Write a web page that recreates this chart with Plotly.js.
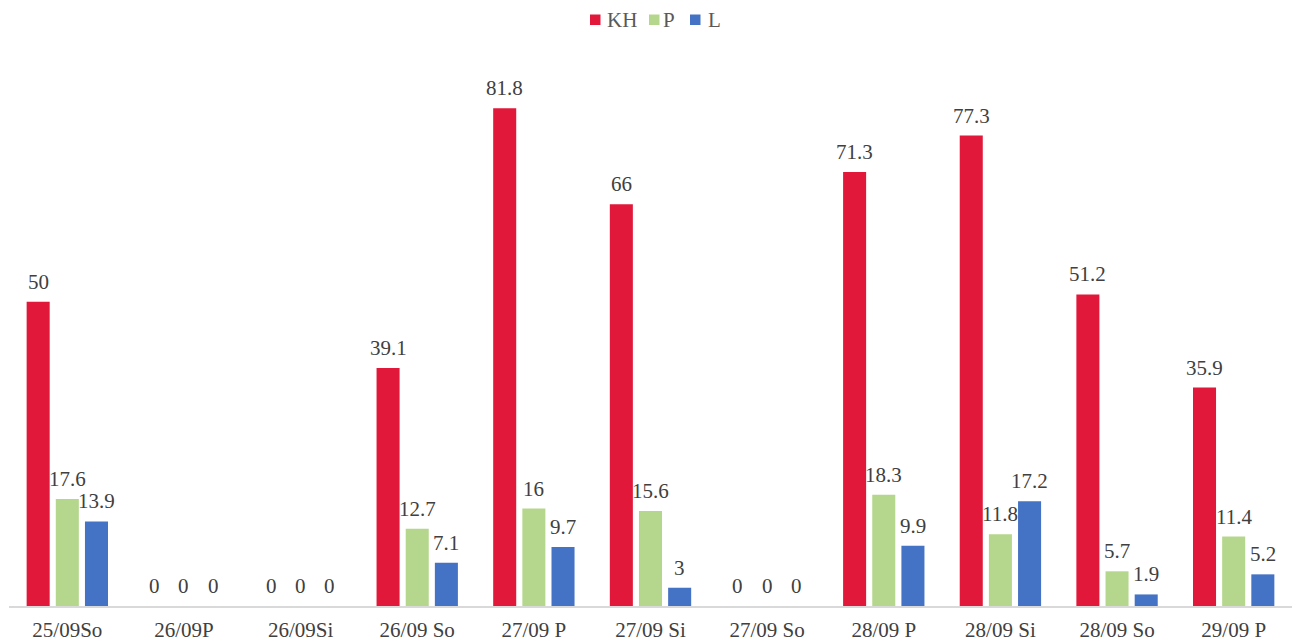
<!DOCTYPE html>
<html>
<head>
<meta charset="utf-8">
<script src="https://cdn.plot.ly/plotly-3.0.1.min.js"></script>
<style>
  html, body { margin: 0; padding: 0; background: #fff; }
  #chart { width: 1295px; height: 642px; }
</style>
</head>
<body>
<div id="chart"></div>
<script>
// Sessions (day / session) along the x axis
const categories = ['25/09So', '26/09P', '26/09Si', '26/09 So', '27/09 P', '27/09 Si',
                    '27/09 So', '28/09 P', '28/09 Si', '28/09 So', '29/09 P'];

// Series values
const khValues = [50, 0, 0, 39.1, 81.8, 66, 0, 71.3, 77.3, 51.2, 35.9];
const pValues  = [17.6, 0, 0, 12.7, 16, 15.6, 0, 18.3, 11.8, 5.7, 11.4];
const lValues  = [13.9, 0, 0, 7.1, 9.7, 3, 0, 9.9, 17.2, 1.9, 5.2];

const seriesNames = ['KH', 'P', 'L'];
const seriesColors = ['#E2183A', '#B5D78D', '#4472C4'];
const seriesValues = [khValues, pValues, lValues];

const serif = '"Liberation Serif", "Times New Roman", serif';
const labelFont = { family: serif, size: 21, color: '#404040' };
const BARGAP = 0.25;

const data = seriesNames.map((name, s) => ({
  type: 'bar',
  name: name,
  x: categories,
  y: seriesValues[s],
  marker: { color: seriesColors[s] },
  showlegend: false,
  hoverinfo: 'x+y+name'
}));

// Value labels: one per bar, centred on the bar's slot within its group
const slot = (1 - BARGAP) / seriesNames.length;
const annotations = [];
seriesValues.forEach((vals, s) => {
  vals.forEach((v, i) => {
    annotations.push({
      xref: 'x', yref: 'y',
      x: i + (s - (seriesNames.length - 1) / 2) * slot,
      y: v,
      text: String(v),
      showarrow: false,
      xanchor: 'center', yanchor: 'bottom',
      yshift: 6,
      font: labelFont
    });
  });
});

// Legend row: colour swatch + name, centred above the plot
const legendOffsets = [
  { sw: -60.5, tx: -45.5 },
  { sw: -1.5, tx: 10.5 },
  { sw: 39.5, tx: 55.5 }
];
const shapes = [];
seriesNames.forEach((name, s) => {
  const o = legendOffsets[s];
  shapes.push({
    type: 'rect',
    xref: 'paper', yref: 'paper',
    xsizemode: 'pixel', ysizemode: 'pixel',
    xanchor: 0.5, yanchor: 1,
    x0: o.sw, x1: o.sw + 10.5,
    y0: 15, y1: 25.5,
    line: { width: 0 },
    fillcolor: seriesColors[s]
  });
  annotations.push({
    xref: 'paper', yref: 'paper',
    x: 0.5, y: 1,
    xshift: o.tx, yshift: 20,
    xanchor: 'left', yanchor: 'middle',
    text: name,
    showarrow: false,
    font: { family: serif, size: 21, color: '#595959' }
  });
});

const layout = {
  width: 1295,
  height: 642,
  margin: { l: 9, r: 3, t: 40, b: 36 },
  paper_bgcolor: '#ffffff',
  plot_bgcolor: '#ffffff',
  barmode: 'group',
  bargap: BARGAP,
  bargroupgap: 0.21,
  showlegend: false,
  xaxis: {
    type: 'category',
    showgrid: false,
    showline: true,
    linecolor: '#D9D9D9',
    linewidth: 1.5,
    ticks: 'outside',
    ticklen: 4,
    tickcolor: 'rgba(0,0,0,0)',
    tickfont: { family: serif, size: 21, color: '#404040' },
    zeroline: false,
    fixedrange: true
  },
  yaxis: {
    range: [0, 93],
    visible: false,
    showgrid: false,
    zeroline: false,
    fixedrange: true
  },
  shapes: shapes,
  annotations: annotations
};

Plotly.newPlot('chart', data, layout, { displayModeBar: false, responsive: false });
</script>
</body>
</html>
